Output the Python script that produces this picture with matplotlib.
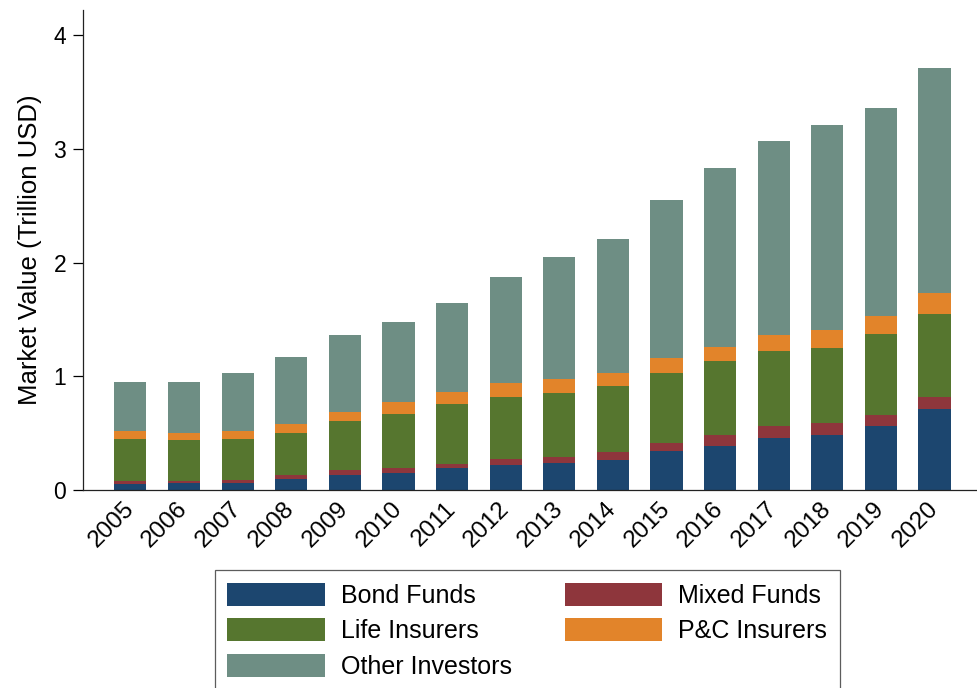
import matplotlib
matplotlib.use("Agg")
import matplotlib.pyplot as plt
import numpy as np

plt.rcParams['font.family'] = ['Liberation Sans', 'DejaVu Sans']

years = [str(y) for y in range(2005, 2021)]

# trillion USD, stacked from the bottom up
bond_funds = [0.05, 0.06, 0.06, 0.10, 0.13, 0.15, 0.19, 0.22, 0.24, 0.26, 0.34, 0.39, 0.46, 0.48, 0.56, 0.71]
mixed_funds = [0.03, 0.02, 0.03, 0.03, 0.05, 0.04, 0.04, 0.05, 0.05, 0.07, 0.07, 0.09, 0.10, 0.11, 0.10, 0.11]
life_insurers = [0.37, 0.36, 0.36, 0.37, 0.43, 0.48, 0.53, 0.55, 0.56, 0.58, 0.62, 0.65, 0.66, 0.66, 0.71, 0.73]
pc_insurers = [0.07, 0.06, 0.07, 0.08, 0.08, 0.10, 0.10, 0.12, 0.13, 0.12, 0.13, 0.13, 0.14, 0.16, 0.16, 0.18]
other_investors = [0.43, 0.45, 0.51, 0.59, 0.67, 0.71, 0.78, 0.93, 1.07, 1.18, 1.39, 1.57, 1.71, 1.80, 1.83, 1.98]

series = [
    ("Bond Funds", bond_funds, "#1c466f"),
    ("Mixed Funds", mixed_funds, "#8e363c"),
    ("Life Insurers", life_insurers, "#56762f"),
    ("P&C Insurers", pc_insurers, "#e2842a"),
    ("Other Investors", other_investors, "#6e8e84"),
]

fig = plt.figure(figsize=(9.78, 6.88), dpi=100)
ax = fig.add_axes([82.7 / 978, 198 / 688, 1 - 82.7 / 978, 480 / 688])

x = np.arange(len(years))
bottom = np.zeros(len(years))
handles = {}
for name, vals, col in series:
    h = ax.bar(x, vals, width=0.6, bottom=bottom, color=col, label=name, linewidth=0)
    handles[name] = h
    bottom += np.array(vals)

ax.set_xlim(-0.89, 15.81)
ax.set_ylim(0, 4.22)
ax.set_yticks([0, 1, 2, 3, 4])
ax.set_xticks(x)
ax.set_xticklabels(years, rotation=45, ha='right', va='center', rotation_mode='anchor', fontsize=17.5)
ax.tick_params(axis='x', length=0, pad=11)
ax.tick_params(axis='y', length=7.5, width=0.9, pad=4.5, labelsize=16.5, direction='out')
ax.spines['top'].set_visible(False)
ax.spines['right'].set_visible(False)
for s in ['left', 'bottom']:
    ax.spines[s].set_linewidth(0.9)
    ax.spines[s].set_color('#222222')
ax.set_ylabel("Market Value (Trillion USD)", fontsize=18.5, labelpad=8)

# legend fills column by column, so this gives rows Bond/Mixed, Life/P&C, Other
order = ["Bond Funds", "Life Insurers", "Other Investors", "Mixed Funds", "P&C Insurers"]
leg = fig.legend([handles[n] for n in order], order, loc='upper left',
                 bbox_to_anchor=(215 / 978, 1 - 570 / 688), ncol=2, fontsize=18,
                 frameon=True, fancybox=False, edgecolor='#333333', borderaxespad=0,
                 handlelength=3.9, handleheight=1.04, handletextpad=0.65,
                 labelspacing=0.42, columnspacing=2.1, borderpad=0.5)
leg.get_frame().set_linewidth(0.9)

plt.savefig("out.png", dpi=100)
